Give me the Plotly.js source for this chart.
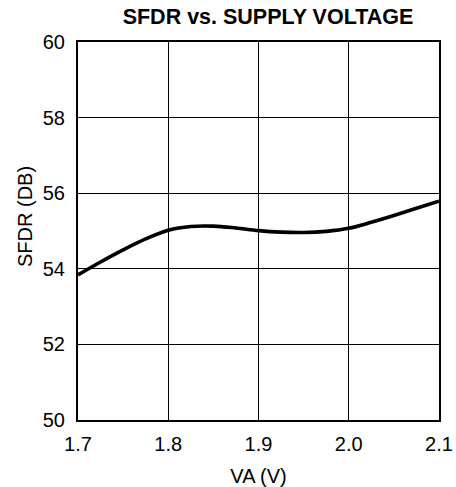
<!DOCTYPE html>
<html>
<head>
<meta charset="utf-8">
<script src="https://cdn.plot.ly/plotly-3.0.1.min.js"></script>
<style>html,body{margin:0;padding:0;background:#fff;}#chart{width:456px;height:487px;}</style>
</head>
<body>
<div id="chart"></div>
<script>
const vaVolts = [1.7, 1.725, 1.75, 1.775, 1.8, 1.825, 1.85, 1.875, 1.9, 1.925, 1.95, 1.975, 2.0, 2.025, 2.05, 2.075, 2.1];
const sfdrDb = [53.84, 54.18, 54.50, 54.79, 55.02, 55.12, 55.13, 55.08, 55.01, 54.97, 54.96, 54.99, 55.07, 55.23, 55.41, 55.60, 55.79];
const xTickVals = [1.7, 1.8, 1.9, 2.0, 2.1];
const xTickText = ['1.7', '1.8', '1.9', '2.0', '2.1'];
const yTickVals = [50, 52, 54, 56, 58, 60];

const fam = 'Liberation Sans, Arial, sans-serif';
const font = {family: fam, size: 20, color: '#000'};
Plotly.newPlot('chart', [{
  x: vaVolts, y: sfdrDb, type: 'scatter', mode: 'lines',
  line: {color: '#000', width: 3.6, shape: 'spline', smoothing: 1}
}], {
  width: 456, height: 487,
  margin: {l: 78, r: 17, t: 42, b: 67},
  paper_bgcolor: '#fff', plot_bgcolor: '#fff',
  showlegend: false,
  font: font,
  title: {text: '<b>SFDR vs. SUPPLY VOLTAGE</b>', x: 268 / 456, xanchor: 'center', y: 1 - 9 / 487, yanchor: 'top', font: {family: fam, size: 21.5, color: '#000'}},
  xaxis: {
    range: [1.7, 2.1], tickvals: xTickVals, ticktext: xTickText,
    showgrid: true, gridcolor: '#000', gridwidth: 1,
    showline: true, linecolor: '#000', linewidth: 2, mirror: true,
    zeroline: false, ticks: 'outside', ticklen: 5, tickcolor: 'rgba(0,0,0,0)',
    tickfont: font,
    title: {text: 'VA (V)', font: font, standoff: 15}
  },
  yaxis: {
    range: [50, 60], tickvals: yTickVals,
    showgrid: true, gridcolor: '#000', gridwidth: 1,
    showline: true, linecolor: '#000', linewidth: 2, mirror: true,
    zeroline: false, ticks: 'outside', ticklen: 7, tickcolor: 'rgba(0,0,0,0)',
    tickfont: font
  },
  annotations: [{
    text: 'SFDR (DB)', textangle: -90, font: font, showarrow: false,
    xref: 'paper', yref: 'paper', x: (25 - 78) / 361, y: (420 - 216) / 378,
    xanchor: 'center', yanchor: 'middle'
  }]
}, {displayModeBar: false, staticPlot: true});
</script>
</body>
</html>
